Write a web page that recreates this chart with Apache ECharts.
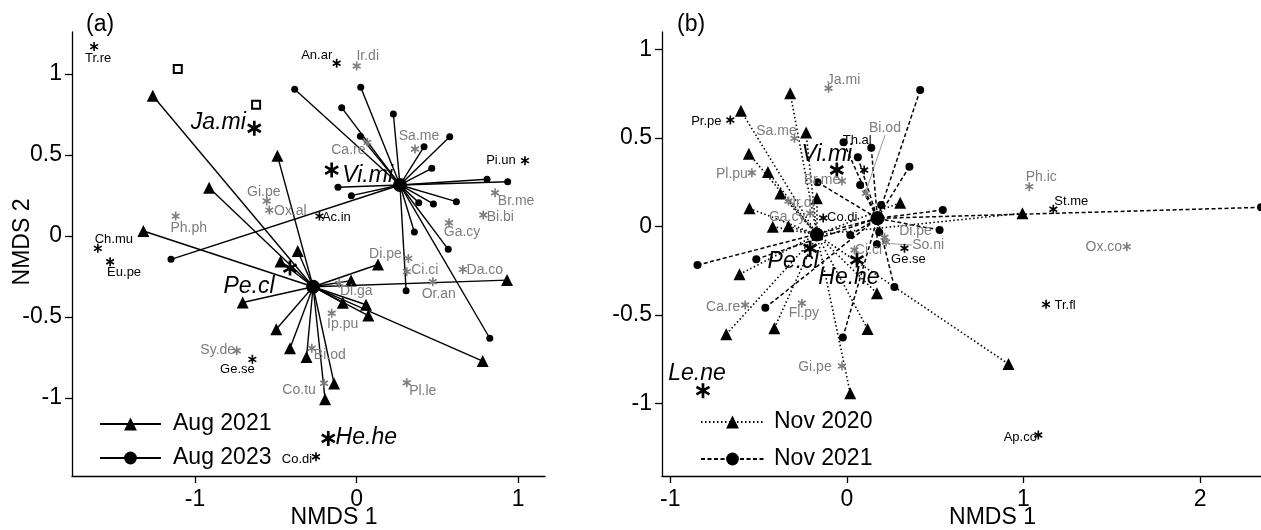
<!DOCTYPE html>
<html>
<head>
<meta charset="utf-8">
<title>NMDS</title>
<script src="https://cdn.jsdelivr.net/npm/echarts@6/dist/echarts.min.js"></script>
<style>
  html, body { margin: 0; padding: 0; background: #fff; }
  #chart { width: 1261px; height: 530px; }
</style>
</head>
<body>
<div id="chart"></div>
<script>
// ---------- panel (a): Aug 2021 vs Aug 2023 ----------
const centroidAug2021 = [-0.269, -0.313];
const centroidAug2023 = [0.269, 0.315];

const aug2021 = [
  [-1.262, 0.866], [-0.913, 0.298], [-0.490, 0.496], [-1.320, 0.031],
  [-0.364, -0.093], [-0.471, -0.157], [-0.705, -0.410], [-0.497, -0.575],
  [-0.412, -0.693], [-0.310, -0.747], [-0.139, -0.910], [-0.195, -1.007],
  [-0.034, -0.275], [-0.085, -0.412], [0.059, -0.424], [0.073, -0.491],
  [0.133, -0.176], [0.932, -0.272], [0.781, -0.772]
];
const aug2023 = [
  [-0.383, 0.906], [0.026, 0.918], [-0.092, 0.792], [0.228, 0.753],
  [0.024, 0.615], [0.418, 0.551], [0.577, 0.613], [0.466, 0.418],
  [0.808, 0.350], [0.936, 0.335], [-0.115, 0.301], [-0.032, 0.249],
  [0.385, 0.206], [0.476, 0.198], [0.618, 0.212], [0.358, 0.025],
  [0.568, -0.082], [-1.149, -0.144], [0.307, -0.338], [0.825, -0.631]
];
const squaresA = [[-1.107, 1.031], [-0.622, 0.810]];

const speciesA = [
  ['Tr.re', -1.625, 1.169], ['An.ar', -0.123, 1.066], ['Ir.di', 0.001, 1.049],
  ['Ja.mi', -0.633, 0.665], ['Ca.re', 0.067, 0.578], ['Sa.me', 0.362, 0.537],
  ['Pi.un', 1.043, 0.465], ['Vi.mi', -0.154, 0.407], ['Br.me', 0.858, 0.267],
  ['Bi.bi', 0.785, 0.130], ['Ga.cy', 0.573, 0.082], ['Ac.in', -0.230, 0.123],
  ['Gi.pe', -0.556, 0.216], ['Ox.al', -0.540, 0.160], ['Ph.ph', -1.120, 0.123],
  ['Ch.mu', -1.602, -0.076], ['Eu.pe', -1.526, -0.159], ['Pe.cl', -0.412, -0.198],
  ['Di.pe', 0.321, -0.138], ['Ci.ci', 0.311, -0.220], ['Da.co', 0.658, -0.206],
  ['Or.an', 0.472, -0.282], ['Di.ga', -0.107, -0.292], ['Ip.pu', -0.154, -0.477],
  ['Bi.od', -0.277, -0.693], ['Sy.de', -0.742, -0.708], ['Ge.se', -0.645, -0.761],
  ['Co.tu', -0.201, -0.909], ['Pl.le', 0.311, -0.906], ['He.he', -0.175, -1.249],
  ['Co.di', -0.251, -1.362]
];
const grayA = ['Ir.di', 'Ca.re', 'Sa.me', 'Br.me', 'Bi.bi', 'Ga.cy', 'Gi.pe', 'Ox.al',
  'Ph.ph', 'Di.pe', 'Ci.ci', 'Da.co', 'Or.an', 'Di.ga', 'Ip.pu', 'Bi.od', 'Sy.de',
  'Co.tu', 'Pl.le'];
const bigA = ['Ja.mi', 'Vi.mi', 'Pe.cl', 'He.he'];

// ---------- panel (b): Nov 2020 vs Nov 2021 ----------
const centroidNov2020 = [-0.170, -0.046];
const centroidNov2021 = [0.173, 0.046];

const nov2020 = [
  [-0.600, 0.654], [-0.321, 0.753], [-0.231, 0.531], [-0.555, 0.411],
  [-0.447, 0.308], [-0.377, 0.186], [-0.170, 0.159], [-0.552, 0.103],
  [-0.420, -0.001], [-0.331, 0.001], [0.302, 0.134], [0.994, 0.075],
  [-0.608, -0.270], [0.170, -0.377], [-0.683, -0.609], [-0.411, -0.575],
  [0.117, -0.579], [0.019, -0.942], [0.915, -0.777]
];
const nov2021 = [
  [0.415, 0.771], [0.354, 0.338], [-0.019, 0.476], [0.138, 0.445],
  [0.062, 0.391], [0.075, 0.234], [-0.166, 0.250], [0.194, 0.121],
  [0.019, -0.048], [0.170, -0.100], [0.543, 0.093], [0.525, -0.020],
  [0.269, -0.342], [-0.023, -0.627], [-0.462, -0.459], [-0.846, -0.218],
  [-0.513, -0.185], [2.345, 0.108], [0.183, -0.033]
];

const speciesB = [
  ['Ja.mi', -0.104, 0.781], ['Pr.pe', -0.660, 0.602], ['Sa.me', -0.297, 0.498],
  ['Th.al', 0.098, 0.319], ['Bi.od', 0.108, 0.188], ['Vi.mi', -0.057, 0.319],
  ['Pl.pu', -0.538, 0.304], ['Br.me', -0.028, 0.257], ['Ir.di', -0.331, 0.144],
  ['Ga.cy', -0.208, 0.075], ['Co.di', -0.134, 0.048], ['Di.pe', 0.213, -0.061],
  ['So.ni', 0.222, -0.088], ['Ge.se', 0.326, -0.123], ['Ci.ci', 0.043, -0.133],
  ['Pe.cl', -0.208, -0.123], ['He.he', 0.057, -0.189], ['Fl.py', -0.255, -0.434],
  ['Ca.re', -0.576, -0.444], ['Gi.pe', -0.028, -0.788], ['Le.ne', -0.815, -0.928],
  ['Ph.ic', 1.033, 0.225], ['St.me', 1.169, 0.097], ['Ox.co', 1.585, -0.114],
  ['Tr.fl', 1.128, -0.440], ['Ap.co', 1.084, -1.178]
];
const grayB = ['Ja.mi', 'Sa.me', 'Bi.od', 'Pl.pu', 'Br.me', 'Ir.di', 'Ga.cy', 'Di.pe',
  'So.ni', 'Ci.ci', 'Fl.py', 'Ca.re', 'Gi.pe', 'Ph.ic', 'Ox.co'];
const bigB = ['Vi.mi', 'Pe.cl', 'He.he', 'Le.ne'];
const leaderB = ['Bi.od', 'So.ni'];

const xTicksA = [-1, 0, 1];
const xTicksB = [-1, 0, 1, 2];
const yTicks = [-1, -0.5, 0, 0.5, 1];

// label placement (pixel offset of the text centre from its asterisk)
const labelOffA = {
  'Tr.re': [4, 12], 'An.ar': [-20, -8], 'Ir.di': [11, -10], 'Ja.mi': [-36, -6],
  'Ca.re': [-19, 8], 'Sa.me': [4, -13], 'Pi.un': [-24, 0], 'Vi.mi': [36, 6],
  'Br.me': [21, 8], 'Bi.bi': [17, 2], 'Ga.cy': [13, 9], 'Ac.in': [17, 1],
  'Gi.pe': [-3, -9], 'Ox.al': [21, 1], 'Ph.ph': [13, 12], 'Ch.mu': [16, -9],
  'Eu.pe': [14, 11], 'Pe.cl': [-41, 19], 'Di.pe': [-23, -4], 'Ci.ci': [18, -2],
  'Da.co': [22, 1], 'Or.an': [6, 12], 'Di.ga': [17, 8], 'Ip.pu': [11, 11],
  'Bi.od': [18, 7], 'Sy.de': [-19, -1], 'Ge.se': [-15, 10], 'Co.tu': [-25, 7],
  'Pl.le': [16, 8], 'He.he': [38, -1], 'Co.di': [-19, 3]
};
const labelOffB = {
  'Ja.mi': [15, -8], 'Pr.pe': [-24, 1], 'Sa.me': [-18, -7], 'Th.al': [-7, -30],
  'Bi.od': [19, -65], 'Vi.mi': [-10, -15], 'Pl.pu': [-20, 1], 'Br.me': [-20, -1],
  'Ir.di': [15, 2], 'Ga.cy': [-23, 4], 'Co.di': [19, -1], 'Di.pe': [31, -6],
  'So.ni': [42, 3], 'Ge.se': [4, 11], 'Ci.ci': [14, 0], 'Pe.cl': [-17, 13],
  'He.he': [-8, 18], 'Fl.py': [2, 10], 'Ca.re': [-22, 2], 'Gi.pe': [-27, 1],
  'Le.ne': [-6, -17], 'Ph.ic': [12, -10], 'St.me': [18, -8], 'Ox.co': [-23, 0],
  'Tr.fl': [19, 1], 'Ap.co': [-18, 2]
};

const FONT = 'Liberation Sans, Arial, sans-serif';
const GRAY = '#7d7d7d';
const INK = '#000';
const STAR = 'path://M-1.8,-10L1.8,-10L1.8,10L-1.8,10Z' +
  'M9.56,3.441L7.76,6.559L-9.56,-3.441L-7.76,-6.559Z' +
  'M-7.76,6.559L-9.56,3.441L7.76,-6.559L9.56,-3.441Z';

function spokes(points, centre, idx, lineStyle) {
  return {
    type: 'lines', coordinateSystem: 'cartesian2d',
    xAxisIndex: idx, yAxisIndex: idx, z: 2, silent: true,
    lineStyle: Object.assign({ color: '#000', width: 1.4, opacity: 1 }, lineStyle),
    data: points.map(p => ({ coords: [p, centre] }))
  };
}

function marks(points, idx, symbol, size) {
  return {
    type: 'scatter', xAxisIndex: idx, yAxisIndex: idx, z: 3, silent: true,
    symbol: symbol, symbolSize: size, itemStyle: { color: '#000', opacity: 1 },
    data: points
  };
}

function species(list, idx, gray, big, offs, leaders) {
  return {
    type: 'scatter', xAxisIndex: idx, yAxisIndex: idx, z: 5, silent: true,
    symbol: STAR, symbolKeepAspect: true,
    itemStyle: { opacity: 1 },
    data: list.map(([name, x, y]) => {
      const isBig = big.includes(name);
      const col = isBig ? INK : (gray.includes(name) ? GRAY : INK);
      const item = {
        name: name, value: [x, y],
        symbolSize: isBig ? 15 : 9,
        itemStyle: { color: col, opacity: 1 },
        label: {
          show: true, position: 'inside', formatter: '{b}',
          offset: offs[name], align: 'center', verticalAlign: 'middle',
          color: col, opacity: 1, fontFamily: FONT, textBorderWidth: 0,
          fontSize: isBig ? 23 : (col === GRAY ? 14 : 13),
          fontStyle: isBig ? 'italic' : 'normal'
        }
      };
      if (leaders && leaders.includes(name)) {
        item.labelLine = { show: true, lineStyle: { color: GRAY, width: 0.8 } };
      }
      return item;
    })
  };
}

function legendLine(name, idx, symbol, size, type) {
  return {
    type: 'line', name: name, xAxisIndex: idx, yAxisIndex: idx, data: [],
    symbol: symbol, symbolSize: size,
    itemStyle: { color: '#000' },
    lineStyle: { color: '#000', width: 1.3, type: type }
  };
}

function xAxis(idx, min, max, ticks, pad) {
  return {
    type: 'value', gridIndex: idx, min: min, max: max,
    name: 'NMDS 1', nameLocation: 'middle', nameGap: 30, nameMoveOverlap: false,
    nameTextStyle: { fontSize: 23, color: INK, fontFamily: FONT, padding: [0, 0, 0, pad] },
    axisLine: { show: true, onZero: false, lineStyle: { color: '#000', width: 1.3 } },
    axisTick: { show: true, length: 7, customValues: ticks, lineStyle: { color: '#000', width: 1.3 } },
    axisLabel: { customValues: ticks, fontSize: 23, color: INK, fontFamily: FONT, margin: 12 },
    splitLine: { show: false }
  };
}

function yAxis(idx, min, max, named) {
  return {
    type: 'value', gridIndex: idx, min: min, max: max,
    name: named ? 'NMDS 2' : '', nameLocation: 'middle', nameGap: 38, nameMoveOverlap: false,
    nameTextStyle: { fontSize: 23, color: INK, fontFamily: FONT, padding: [0, 0, 0, 24] },
    axisLine: { show: true, onZero: false, lineStyle: { color: '#000', width: 1.3 } },
    axisTick: { show: true, length: 7, customValues: yTicks, lineStyle: { color: '#000', width: 1.3 } },
    axisLabel: { customValues: yTicks, fontSize: 23, color: INK, fontFamily: FONT, margin: 10 },
    splitLine: { show: false }
  };
}

const chart = echarts.init(document.getElementById('chart'), null, { renderer: 'canvas' });

chart.setOption({
  animation: false,
  backgroundColor: '#fff',
  title: [
    { text: '(a)', left: 86, top: 13, padding: 0,
      textStyle: { fontSize: 23, fontWeight: 'normal', color: INK, fontFamily: FONT } },
    { text: '(b)', left: 677, top: 13, padding: 0,
      textStyle: { fontSize: 23, fontWeight: 'normal', color: INK, fontFamily: FONT } }
  ],
  grid: [
    { left: 72, top: 32, width: 473, height: 444, outerBoundsMode: 'none', containLabel: false },
    { left: 662, top: 32, width: 599, height: 444, outerBoundsMode: 'none', containLabel: false }
  ],
  xAxis: [xAxis(0, -1.762, 1.167, xTicksA, 51), xAxis(1, -1.047, 2.345, xTicksB, 62)],
  yAxis: [yAxis(0, -1.481, 1.259, true), yAxis(1, -1.41, 1.099, false)],
  legend: [
    { data: ['Aug 2021', 'Aug 2023'], orient: 'vertical', left: 99, top: 411,
      itemWidth: 61, itemHeight: 16, itemGap: 8, padding: 0,
      textStyle: { fontSize: 23, color: INK, fontFamily: FONT, lineHeight: 26, padding: [0, 0, 0, 7] } },
    { data: ['Nov 2020', 'Nov 2021'], orient: 'vertical', left: 700, top: 409,
      itemWidth: 63, itemHeight: 16, itemGap: 11, padding: 0,
      textStyle: { fontSize: 23, color: INK, fontFamily: FONT, lineHeight: 26, padding: [0, 0, 0, 5] } }
  ],
  series: [
    spokes(aug2021, centroidAug2021, 0, { type: 'solid' }),
    spokes(aug2023, centroidAug2023, 0, { type: 'solid' }),
    marks(aug2021, 0, 'triangle', 12),
    marks(aug2023, 0, 'circle', 7),
    marks([centroidAug2021, centroidAug2023], 0, 'circle', 14),
    {
      type: 'scatter', xAxisIndex: 0, yAxisIndex: 0, z: 3, silent: true,
      symbol: 'rect', symbolSize: 8,
      itemStyle: { color: '#fff', borderColor: '#000', borderWidth: 2, opacity: 1 },
      data: squaresA
    },
    species(speciesA, 0, grayA, bigA, labelOffA),

    spokes(nov2020, centroidNov2020, 1, { type: [1.5, 2.5], width: 1.6 }),
    spokes(nov2021, centroidNov2021, 1, { type: [4, 2.5], width: 1.5 }),
    marks(nov2020, 1, 'triangle', 12),
    marks(nov2021, 1, 'circle', 8),
    marks([centroidNov2020, centroidNov2021], 1, 'circle', 14),
    species(speciesB, 1, grayB, bigB, labelOffB, leaderB),

    legendLine('Aug 2021', 0, 'triangle', 14, 'solid'),
    legendLine('Aug 2023', 0, 'circle', 10, 'solid'),
    legendLine('Nov 2020', 1, 'triangle', 14, [1.5, 2.5]),
    legendLine('Nov 2021', 1, 'circle', 10, [4, 2.5])
  ]
});
</script>
</body>
</html>
